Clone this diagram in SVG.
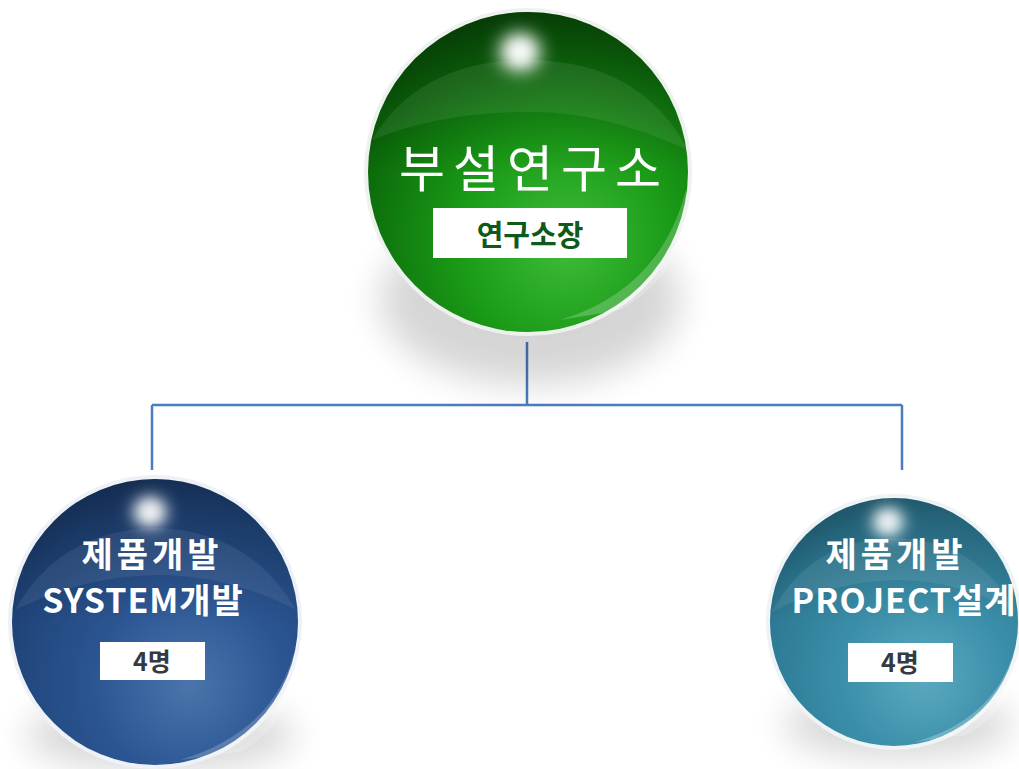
<svg xmlns="http://www.w3.org/2000/svg" width="1019" height="769" viewBox="0 0 1019 769">
<style>
.t{font-family:"Noto Sans CJK KR","Noto Sans",sans-serif;fill:#ffffff;text-anchor:middle}
.big{font-size:50px;font-weight:400;letter-spacing:8px}
.mid{font-size:34px;font-weight:700}
.lab{font-family:"Noto Sans CJK KR","Noto Sans",sans-serif;text-anchor:middle;font-weight:700}
.box{fill:#ffffff}
.conn{stroke:#4a7cc0;stroke-width:2.5;fill:none}
</style>
<defs>
<filter id="blur" x="-50%" y="-50%" width="200%" height="200%"><feGaussianBlur stdDeviation="18"/></filter>
<filter id="hblur" x="-100%" y="-100%" width="300%" height="300%"><feGaussianBlur stdDeviation="7"/></filter>
<radialGradient id="gG" cx="0.62" cy="0.72" r="0.75">
<stop offset="0" stop-color="#3fbd3a"/>
<stop offset="0.45" stop-color="#1a9a17"/>
<stop offset="0.85" stop-color="#0c6d0b"/>
<stop offset="1" stop-color="#0a5a0a"/>
</radialGradient>
<radialGradient id="gB" cx="0.62" cy="0.72" r="0.75">
<stop offset="0" stop-color="#4a74ab"/>
<stop offset="0.45" stop-color="#2b5592"/>
<stop offset="0.85" stop-color="#1f4479"/>
<stop offset="1" stop-color="#1a3a6a"/>
</radialGradient>
<radialGradient id="gT" cx="0.62" cy="0.72" r="0.75">
<stop offset="0" stop-color="#5aa9c0"/>
<stop offset="0.45" stop-color="#3b8ea9"/>
<stop offset="0.85" stop-color="#2d7a94"/>
<stop offset="1" stop-color="#266b83"/>
</radialGradient>
<linearGradient id="topDark" x1="0" y1="0" x2="0" y2="1">
<stop offset="0" stop-color="#000" stop-opacity="0.35"/>
<stop offset="0.5" stop-color="#000" stop-opacity="0"/>
</linearGradient>
<radialGradient id="hl" cx="0.5" cy="0.5" r="0.5">
<stop offset="0" stop-color="#fff" stop-opacity="1"/>
<stop offset="0.4" stop-color="#fff" stop-opacity="0.8"/>
<stop offset="1" stop-color="#fff" stop-opacity="0"/>
</radialGradient>
</defs>
<rect width="1019" height="769" fill="#ffffff"/>

<g id="connectors">
<path class="conn" d="M527 342 V405 M152 405 H902 M152 405 V470 M902 405 V470"/>
</g>

<g id="node-top">
<ellipse cx="530" cy="300" rx="150" ry="85" fill="#000" opacity="0.16" filter="url(#blur)"/>
<circle cx="528" cy="172" r="164" fill="#eef2ee"/>
<circle cx="528" cy="172" r="160" fill="url(#gG)"/>
<circle cx="528" cy="172" r="160" fill="url(#topDark)"/>
<path d="M372 140 Q420 60 528 60 Q640 60 688 150 Q600 110 528 112 Q440 112 372 140 Z" fill="#fff" opacity="0.08"/>
<path d="M560 320 Q660 290 686 190 Q690 270 620 310 Z" fill="#fff" opacity="0.22"/>
<ellipse cx="520" cy="52" rx="30" ry="28" fill="url(#hl)" filter="url(#hblur)"/>
<ellipse cx="520" cy="52" rx="11" ry="11" fill="#fff" opacity="0.9" filter="url(#hblur)"/>
<text class="t big" x="534" y="187">부설연구소</text>
<rect class="box" x="433" y="208" width="194" height="50"/>
<text class="lab" x="530" y="246" font-size="29" fill="#0e5a1a">연구소장</text>
</g>

<g id="node-left">
<ellipse cx="160" cy="735" rx="135" ry="35" fill="#000" opacity="0.16" filter="url(#blur)"/>
<circle cx="155" cy="622" r="147" fill="#eef1f5"/>
<circle cx="155" cy="622" r="143" fill="url(#gB)"/>
<circle cx="155" cy="622" r="143" fill="url(#topDark)" opacity="0.7"/>
<path d="M15 610 Q60 530 155 528 Q250 530 296 610 Q230 575 155 575 Q80 577 15 610 Z" fill="#fff" opacity="0.07"/>
<path d="M180 760 Q280 730 297 640 Q300 720 240 752 Z" fill="#fff" opacity="0.2"/>
<ellipse cx="150" cy="512" rx="24" ry="22" fill="url(#hl)" filter="url(#hblur)"/>
<ellipse cx="150" cy="512" rx="9" ry="9" fill="#fff" opacity="0.9" filter="url(#hblur)"/>
<text class="t mid" x="152" y="567" letter-spacing="4">제품개발</text>
<text class="t mid" x="143" y="613" letter-spacing="1">SYSTEM개발</text>
<rect class="box" x="100" y="642" width="105" height="38"/>
<text class="lab" x="152" y="671" font-size="25" fill="#333a44">4명</text>
</g>

<g id="node-right">
<ellipse cx="898" cy="725" rx="115" ry="32" fill="#000" opacity="0.16" filter="url(#blur)"/>
<circle cx="894" cy="622" r="128" fill="#eef3f5"/>
<circle cx="894" cy="622" r="124" fill="url(#gT)"/>
<circle cx="894" cy="622" r="124" fill="url(#topDark)" opacity="0.6"/>
<path d="M772 612 Q810 540 894 538 Q978 540 1016 612 Q960 580 894 580 Q830 582 772 612 Z" fill="#fff" opacity="0.08"/>
<path d="M915 742 Q1000 718 1017 640 Q1020 705 966 735 Z" fill="#fff" opacity="0.25"/>
<ellipse cx="888" cy="522" rx="22" ry="20" fill="url(#hl)" filter="url(#hblur)"/>
<ellipse cx="888" cy="522" rx="8" ry="8" fill="#fff" opacity="0.9" filter="url(#hblur)"/>
<text class="t mid" x="896" y="567" letter-spacing="4">제품개발</text>
<text class="t mid" x="904" y="613" letter-spacing="1">PROJECT설계</text>
<rect class="box" x="848" y="643" width="105" height="39"/>
<text class="lab" x="900" y="672" font-size="25" fill="#333a44">4명</text>
</g>
</svg>
